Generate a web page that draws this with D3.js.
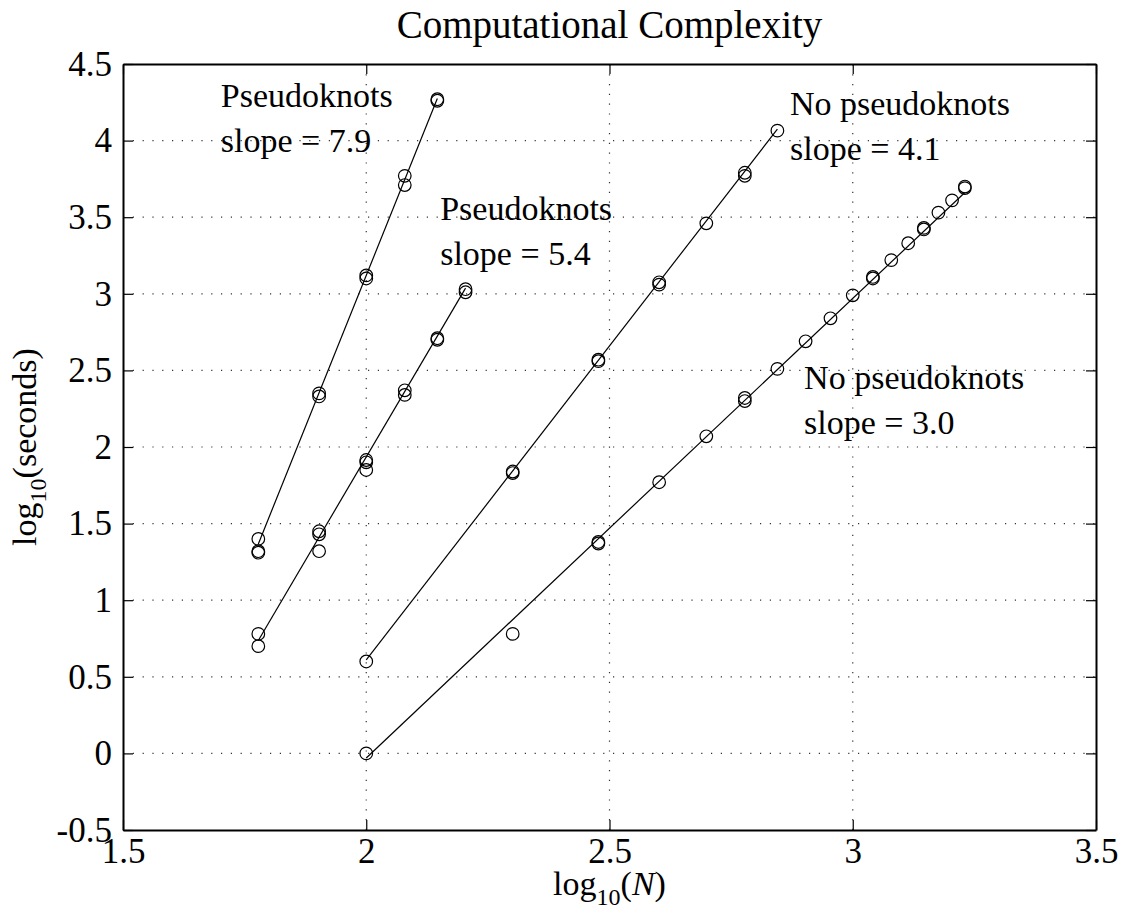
<!DOCTYPE html>
<html>
<head>
<meta charset="utf-8">
<script src="https://cdn.jsdelivr.net/npm/d3@7"></script>
<style>
  html, body { margin: 0; padding: 0; background: #fff; }
  svg { display: block; }
  text { font-family: "Liberation Serif", "Times New Roman", Times, serif; fill: #000; }
</style>
</head>
<body>
<script>
// Axis ticks
const xTicks = [1.5, 2, 2.5, 3, 3.5];
const yTicks = [-0.5, 0, 0.5, 1, 1.5, 2, 2.5, 3, 3.5, 4, 4.5];

// Timing runs: sequence length N and log10 of run time in seconds
const pk79N = [60, 60, 60, 80, 80, 100, 100, 120, 120, 140, 140];
const pk79T = [1.40, 1.32, 1.31, 2.35, 2.33, 3.12, 3.10, 3.77, 3.71, 4.27, 4.26];

const pk54N = [60, 60, 80, 80, 80, 100, 100, 100, 120, 120, 140, 140, 160, 160];
const pk54T = [0.78, 0.70, 1.45, 1.43, 1.32, 1.915, 1.90, 1.85, 2.37, 2.34, 2.71, 2.70, 3.03, 3.01];

const npk41N = [100, 200, 200, 300, 300, 400, 400, 500, 600, 600, 700];
const npk41T = [0.60, 1.84, 1.83, 2.57, 2.56, 3.075, 3.06, 3.46, 3.79, 3.77, 4.065];

const npk30N = [100, 200, 300, 300, 400, 500, 600, 600, 700, 800, 900, 1000, 1100, 1100,
                1200, 1300, 1400, 1400, 1500, 1600, 1700, 1700];
const npk30T = [0.00, 0.78, 1.38, 1.37, 1.77, 2.07, 2.32, 2.30, 2.51, 2.69, 2.84, 2.99, 3.11, 3.10,
                3.22, 3.33, 3.43, 3.42, 3.53, 3.61, 3.70, 3.69];

// Fitted power laws: log10(t) = slope * log10(N) + intercept
const fitSlopes = [7.9, 5.4, 4.1, 3.0];
const fitIntercepts = [-12.68, -8.865, -7.59, -6.03];

// Annotation text and anchor (data coordinates of first baseline)
const labelLines = [["Pseudoknots", "slope = 7.9"], ["Pseudoknots", "slope = 5.4"],
                    ["No pseudoknots", "slope = 4.1"], ["No pseudoknots", "slope = 3.0"]];
const labelX = [1.701, 2.152, 2.871, 2.900];
const labelY = [4.22, 3.482, 4.167, 2.376];

const seriesN = [pk79N, pk54N, npk41N, npk30N];
const seriesT = [pk79T, pk54T, npk41T, npk30T];

const W = 1125, H = 914;
const svg = d3.select("body").append("svg").attr("width", W).attr("height", H);

const x = d3.scaleLinear().domain([1.5, 3.5]).range([123, 1096]);
const y = d3.scaleLinear().domain([-0.5, 4.5]).range([830, 64]);
const [x0, x1] = x.range();
const [y0, y1] = y.range();

// Dotted grid
const grid = svg.append("g").attr("stroke", "#333").attr("stroke-width", 1.2)
  .attr("stroke-dasharray", "1.2,8.6");
grid.selectAll("line.gx").data(xTicks.slice(1, -1)).join("line")
  .attr("x1", d => x(d)).attr("x2", d => x(d)).attr("y1", y0).attr("y2", y1);
grid.selectAll("line.gy").data(yTicks.slice(1, -1)).join("line")
  .attr("x1", x0).attr("x2", x1).attr("y1", d => y(d)).attr("y2", d => y(d));

// Fit lines spanning each series' N range
const line = d3.line().x(d => x(d[0])).y(d => y(d[1]));
seriesN.forEach((ns, i) => {
  const lx = ns.map(n => Math.log10(n));
  const ext = d3.extent(lx);
  const pts = ext.map(v => [v, fitSlopes[i] * v + fitIntercepts[i]]);
  svg.append("path").attr("d", line(pts)).attr("fill", "none")
    .attr("stroke", "#000").attr("stroke-width", 1.2);
});

// Measured points as open circles
seriesN.forEach((ns, i) => {
  const pts = ns.map((n, j) => [Math.log10(n), seriesT[i][j]]);
  svg.append("g").selectAll("circle").data(pts).join("circle")
    .attr("cx", d => x(d[0])).attr("cy", d => y(d[1])).attr("r", 6.3)
    .attr("fill", "none").attr("stroke", "#000").attr("stroke-width", 1.2);
});

// Box axes with inward ticks on all four sides
const fmt = d => String(d);
const axB = svg.append("g").attr("transform", `translate(0,${y0})`)
  .call(d3.axisBottom(x).tickValues(xTicks).tickSizeInner(-10).tickSizeOuter(0).tickPadding(8).tickFormat(fmt));
const axT = svg.append("g").attr("transform", `translate(0,${y1})`)
  .call(d3.axisTop(x).tickValues(xTicks).tickSizeInner(-10).tickSizeOuter(0).tickFormat(""));
const axL = svg.append("g").attr("transform", `translate(${x0},0)`)
  .call(d3.axisLeft(y).tickValues(yTicks).tickSizeInner(-10).tickSizeOuter(0).tickPadding(11).tickFormat(fmt));
const axR = svg.append("g").attr("transform", `translate(${x1},0)`)
  .call(d3.axisRight(y).tickValues(yTicks).tickSizeInner(-10).tickSizeOuter(0).tickFormat(""));

[axB, axT, axL, axR].forEach(g => {
  g.select(".domain").attr("stroke", "#000").attr("stroke-width", 2);
  g.selectAll(".tick line").attr("stroke", "#000").attr("stroke-width", 1.2);
  g.selectAll("text").attr("font-family", "Liberation Serif, Times New Roman, serif")
    .attr("font-size", 35).attr("fill", "#000");
});
axB.selectAll("text").attr("dy", "0.71em");
axL.selectAll("text").attr("dy", "0.32em");

// Annotations
labelLines.forEach((lines, i) => {
  const t = svg.append("text").attr("x", x(labelX[i])).attr("y", y(labelY[i]))
    .attr("font-size", 34);
  lines.forEach((s, k) => {
    t.append("tspan").attr("x", x(labelX[i])).attr("dy", k === 0 ? 0 : 45).text(s);
  });
});

// Title
svg.append("text").attr("x", (x0 + x1) / 2).attr("y", 38).attr("text-anchor", "middle")
  .attr("font-size", 39).text("Computational Complexity");

// X label: log10(N)
const xl = svg.append("text").attr("x", (x0 + x1) / 2).attr("y", 895)
  .attr("text-anchor", "middle").attr("font-size", 34);
xl.append("tspan").text("log");
xl.append("tspan").attr("font-size", 24).attr("dy", 10).text("10");
xl.append("tspan").attr("dy", -10).text("(");
xl.append("tspan").attr("font-style", "italic").text("N");
xl.append("tspan").text(")");

// Y label: log10(seconds)
const yl = svg.append("text")
  .attr("transform", `translate(36,${(y0 + y1) / 2}) rotate(-90)`)
  .attr("text-anchor", "middle").attr("font-size", 34);
yl.append("tspan").text("log");
yl.append("tspan").attr("font-size", 24).attr("dy", 10).text("10");
yl.append("tspan").attr("dy", -10).text("(seconds)");
</script>
</body>
</html>
